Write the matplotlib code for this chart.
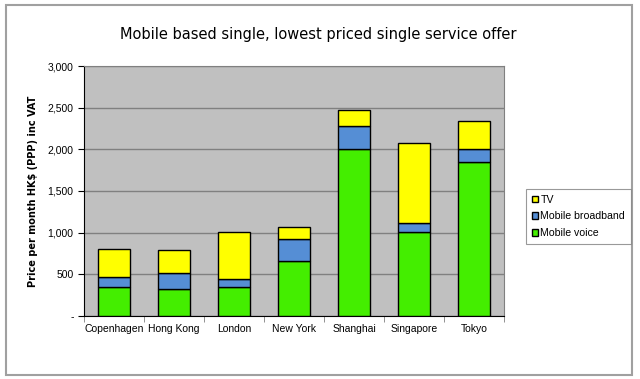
import matplotlib
matplotlib.use("Agg")
import matplotlib.pyplot as plt
from matplotlib.patches import Rectangle
import numpy as np

cities = ["Copenhagen", "Hong Kong", "London", "New York", "Shanghai", "Singapore", "Tokyo"]
mobile_voice = [350, 320, 350, 665, 2000, 1010, 1850]
mobile_broadband = [115, 195, 100, 255, 285, 110, 160]
tv = [345, 280, 560, 150, 185, 955, 330]
yticks = [0, 500, 1000, 1500, 2000, 2500, 3000]
ytick_labels = ["-", "500", "1,000", "1,500", "2,000", "2,500", "3,000"]

W, H = 640, 379
fig = plt.figure(figsize=(W / 100, H / 100), dpi=100)
fig.patch.set_facecolor("white")
fig.patches.append(Rectangle((6 / W, 1 - 375 / H), (632 - 6) / W, (375 - 5) / H,
                             transform=fig.transFigure, fill=False,
                             edgecolor="#a0a0a0", linewidth=1.5))

ax = fig.add_axes([84 / W, 1 - 316 / H, (504 - 84) / W, (316 - 66) / H])
ax.set_facecolor("#c0c0c0")

x = np.arange(len(cities))
w = 0.53
mv = np.array(mobile_voice)
mb = np.array(mobile_broadband)
ax.bar(x, mv, w, color="#44ee00", edgecolor="black", linewidth=1, label="Mobile voice", zorder=3)
ax.bar(x, mb, w, bottom=mv, color="#558ed5", edgecolor="black", linewidth=1, label="Mobile broadband", zorder=3)
ax.bar(x, tv, w, bottom=mv + mb, color="#ffff00", edgecolor="black", linewidth=1, label="TV", zorder=3)

lab = "Liberation Sans"
ax.set_xlim(-0.5, len(cities) - 0.5)
ax.set_ylim(0, 3000)
ax.set_yticks(yticks)
ax.set_yticklabels(ytick_labels, fontsize=7.5, family=lab)
ax.yaxis.grid(True, color="#808080", linewidth=1, zorder=0)
ax.set_axisbelow(True)
ax.set_xticks(x)
ax.set_xticklabels(cities, fontsize=7.5, family=lab)
ax.set_xticks(np.arange(len(cities) + 1) - 0.5, minor=True)
ax.tick_params(axis="x", which="major", length=0, pad=6)
ax.tick_params(axis="x", which="minor", length=4, color="#808080")
ax.tick_params(axis="y", length=4, color="black")
for s in ["top", "right"]:
    ax.spines[s].set_color("#808080")
ax.spines["left"].set_color("black")
ax.spines["bottom"].set_color("black")

ax.set_ylabel("Price per month HK$ (PPP) inc VAT", fontsize=7, fontweight="bold", labelpad=7)

fig.text(318 / W, 1 - 34 / H, "Mobile based single, lowest priced single service offer",
         ha="center", va="center", fontsize=10.5, fontweight="medium")

handles, labels = ax.get_legend_handles_labels()
leg = fig.legend(handles[::-1], labels[::-1], loc="upper left",
                 bbox_to_anchor=(526 / W, 1 - 189 / H), prop={"family": lab, "size": 7.6},
                 frameon=True, fancybox=False, edgecolor="#808080",
                 handlelength=0.6, handleheight=0.6, handletextpad=0.2,
                 labelspacing=0.62, borderpad=0.55, borderaxespad=0)
leg.get_frame().set_linewidth(0.8)

fig.savefig("out.png", dpi=100)
